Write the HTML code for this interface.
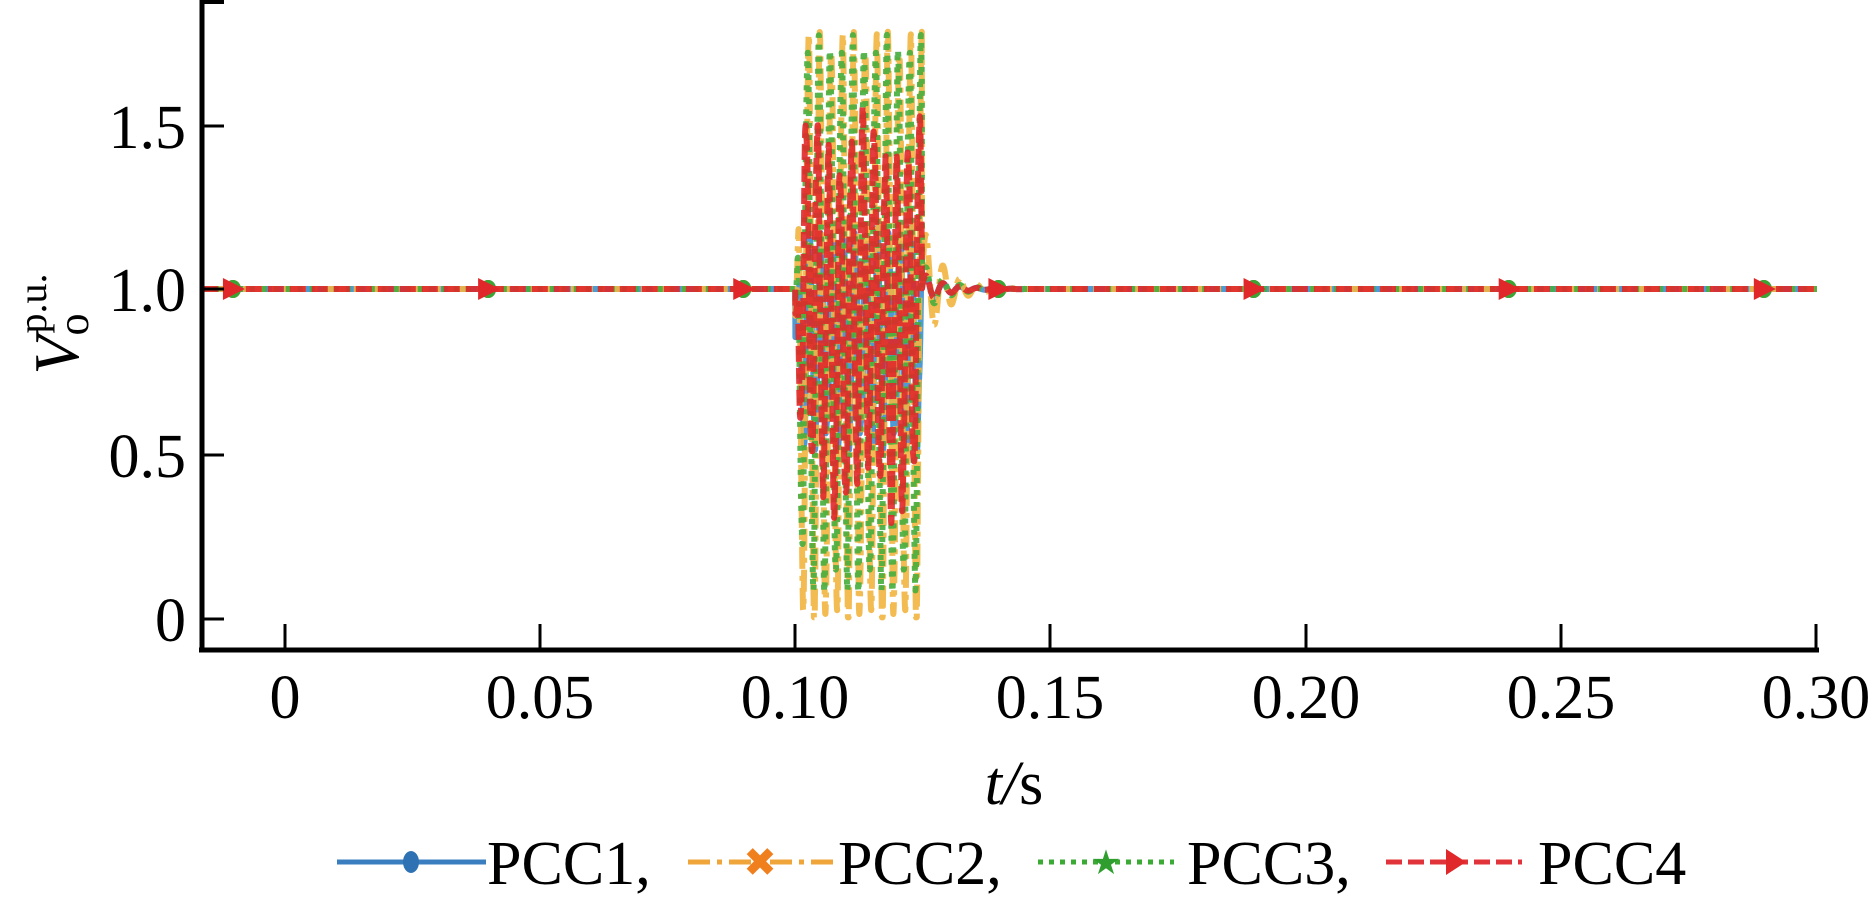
<!DOCTYPE html>
<html><head><meta charset="utf-8"><style>
html,body{margin:0;padding:0;background:#fff;}
svg{display:block;font-family:"Liberation Serif",serif;}
</style></head><body>
<svg id="s" width="1874" height="906" viewBox="0 0 1874 906" xmlns="http://www.w3.org/2000/svg">
<g id="plot"></g>
<line x1="202" y1="0" x2="202" y2="652" stroke="#000" stroke-width="5"/>
<line x1="199" y1="650" x2="1819" y2="650" stroke="#000" stroke-width="5"/>
<line x1="202" y1="2" x2="224" y2="2" stroke="#000" stroke-width="4"/>
<g stroke="#000" stroke-width="3">
<line x1="202" y1="126" x2="224" y2="126"/>
<line x1="202" y1="289" x2="224" y2="289"/>
<line x1="202" y1="455" x2="224" y2="455"/>
<line x1="202" y1="619" x2="224" y2="619"/>
<line x1="285" y1="650" x2="285" y2="624"/>
<line x1="540" y1="650" x2="540" y2="624"/>
<line x1="795" y1="650" x2="795" y2="624"/>
<line x1="1050" y1="650" x2="1050" y2="624"/>
<line x1="1306" y1="650" x2="1306" y2="624"/>
<line x1="1561" y1="650" x2="1561" y2="624"/>
<line x1="1816" y1="650" x2="1816" y2="624"/>
</g>
<g font-size="62" text-anchor="end">
<text x="186" y="148">1.5</text>
<text x="186" y="311">1.0</text>
<text x="186" y="477">0.5</text>
<text x="186" y="641">0</text>
</g>
<g font-size="62" text-anchor="middle">
<text x="285" y="718">0</text>
<text x="540" y="718">0.05</text>
<text x="795" y="718">0.10</text>
<text x="1050" y="718">0.15</text>
<text x="1306" y="718">0.20</text>
<text x="1561" y="718">0.25</text>
<text x="1816" y="718">0.30</text>
</g>
<text x="1014" y="804" font-size="62" text-anchor="middle"><tspan font-style="italic">t</tspan><tspan font-style="italic">/</tspan>s</text>
<g transform="translate(78,324) rotate(-90)">
<text x="0" y="0" font-size="64" text-anchor="middle"><tspan font-style="italic">V</tspan><tspan font-size="44" dy="10">o</tspan><tspan font-size="40" dy="-42" dx="-20">p.u.</tspan></text>
</g>
<g font-size="62">
<line x1="337" y1="862" x2="486" y2="862" stroke="#3a7ebf" stroke-width="5"/>
<ellipse cx="411" cy="862" rx="8" ry="11" fill="#2e72b3"/>
<text x="487" y="884">PCC1,</text>
<line x1="688" y1="862" x2="834" y2="862" stroke="#f0a53a" stroke-width="5" stroke-dasharray="22,7,5,7"/>
<text x="760" y="876" font-size="40" fill="#f07f1e" text-anchor="middle">✖</text>
<text x="838" y="884">PCC2,</text>
<line x1="1038" y1="862" x2="1174" y2="862" stroke="#3aaa35" stroke-width="5" stroke-dasharray="5,6"/>
<text x="1106" y="874" font-size="34" fill="#2f9e2f" text-anchor="middle">★</text>
<text x="1187" y="884">PCC3,</text>
<line x1="1386" y1="862" x2="1522" y2="862" stroke="#e0343a" stroke-width="5" stroke-dasharray="16,6"/>
<polygon points="1446,849 1466,862 1446,875" fill="#e0282a"/>
<text x="1538" y="884">PCC4</text>
</g>
</svg>
<script>
(function(){
var X=function(t){return 285+t*5103;}, Y=function(v){return 619-v*330;};
var series=[
 {c:"#3a8fd0",da:"",amp:0.30,ctr:0.85,ph:0.0,post:0.05,mk:"circle"},
 {c:"#f2b540",da:"22,7,5,7",amp:0.87,ctr:0.88,ph:0.5,post:0.2,mk:"x"},
 {c:"#45ad3c",da:"5,7",amp:0.81,ctr:0.92,ph:1.1,post:0.08,mk:"star"},
 {c:"#e0282a",da:"16,6",amp:0.52,ctr:0.92,ph:1.9,post:0.05,mk:"tri"}
];
var g=document.getElementById("plot"),NS="http://www.w3.org/2000/svg";
series.forEach(function(s,k){
  var pts=[],dt=0.00003;
  for(var t=-0.0163;t<=0.3002;t+=dt){
    var v=1;
    if(t>=0.1&&t<0.1248){
      var w=2*Math.PI*450;
      var rise=Math.min(1,(t-0.1)/0.0015);
      v=s.ctr+s.amp*rise*Math.sin(w*(t-0.1)+s.ph)+0.04*Math.sin(2*Math.PI*1500*t+k);
      if(k==3) v+=0.08*Math.sin(2*Math.PI*90*t);
      if(v<0.005)v=0.005;
    } else if(t>=0.1248&&t<0.145){
      var d=t-0.1248;
      v=1+s.post*Math.exp(-d/0.004)*Math.sin(2*Math.PI*300*d);
    }
    pts.push(X(t).toFixed(1)+","+Y(v).toFixed(1));
  }
  var p=document.createElementNS(NS,"polyline");
  p.setAttribute("points",pts.join(" "));
  p.setAttribute("fill","none");p.setAttribute("stroke",s.c);
  p.setAttribute("stroke-width","6");p.setAttribute("stroke-opacity","0.9");
  p.setAttribute("stroke-linejoin","round");
  if(s.da)p.setAttribute("stroke-dasharray",s.da);
  g.appendChild(p);
  for(var i=0;i<7;i++){
    var tm=-0.0102+0.05*i,x=X(tm),y=Y(1),e;
    if(s.mk=="tri"){e=document.createElementNS(NS,"polygon");e.setAttribute("points",(x-10)+","+(y-11)+" "+(x+12)+","+y+" "+(x-10)+","+(y+11));e.setAttribute("fill","#e0282a");}
    else {var col={circle:"#2e72b3",x:"#f08a2a",star:"#3aa535"}[s.mk];e=document.createElementNS(NS,"ellipse");e.setAttribute("cx",x);e.setAttribute("cy",y);e.setAttribute("rx",8);e.setAttribute("ry",9);e.setAttribute("fill",col);}
    g.appendChild(e);
  }
});
})();
</script>
</body></html>
